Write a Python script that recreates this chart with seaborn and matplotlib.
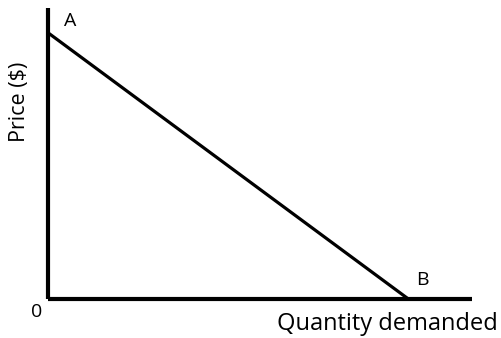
import matplotlib
matplotlib.use("Agg")
import matplotlib.pyplot as plt
import seaborn as sns
import pandas as pd

# demand curve end points (A and B)
quantity = [0, 85]
price = [91.5, 0]
point_labels = ["A", "B"]

sns.set_style("white")
plt.rcParams['font.family'] = ['Open Sans', 'DejaVu Sans']
plt.rcParams['text.color'] = 'black'

df = pd.DataFrame({"Quantity": quantity, "Price": price})

fig = plt.figure(figsize=(5.01, 3.38), dpi=100)
W, H = 501, 338
ax = fig.add_axes([48 / W, (H - 299) / H, (472 - 48) / W, (299 - 8) / H])

sns.lineplot(data=df, x="Quantity", y="Price", color="black", linewidth=2.3, ax=ax)

ax.set_xlim(0, 100)
ax.set_ylim(0, 100)
ax.set_xticks([])
ax.set_yticks([])
ax.set_xlabel("")
ax.set_ylabel("")
for side in ["top", "right"]:
    ax.spines[side].set_visible(False)
for side in ["left", "bottom"]:
    ax.spines[side].set_linewidth(3)
    ax.spines[side].set_color("black")
    ax.spines[side].set_capstyle("butt")

# point labels
ax.annotate(point_labels[0], (quantity[0], price[0]), xytext=(16, 2),
            textcoords="offset points", fontsize=14, ha="center", va="bottom")
ax.annotate(point_labels[1], (quantity[1], price[1]), xytext=(10, 7),
            textcoords="offset points", fontsize=14, ha="center", va="bottom")

fig.text(37 / W, 1 - 312 / H, "0", fontsize=14, ha="center", va="center")
fig.text(498 / W, 1 - 330 / H, "Quantity demanded", fontsize=17, ha="right", va="baseline")
fig.text(20 / W, 1 - 102 / H, "Price ($)", fontsize=15.5, rotation=90, ha="center", va="center")

fig.savefig("out.png", dpi=100, facecolor="white")
